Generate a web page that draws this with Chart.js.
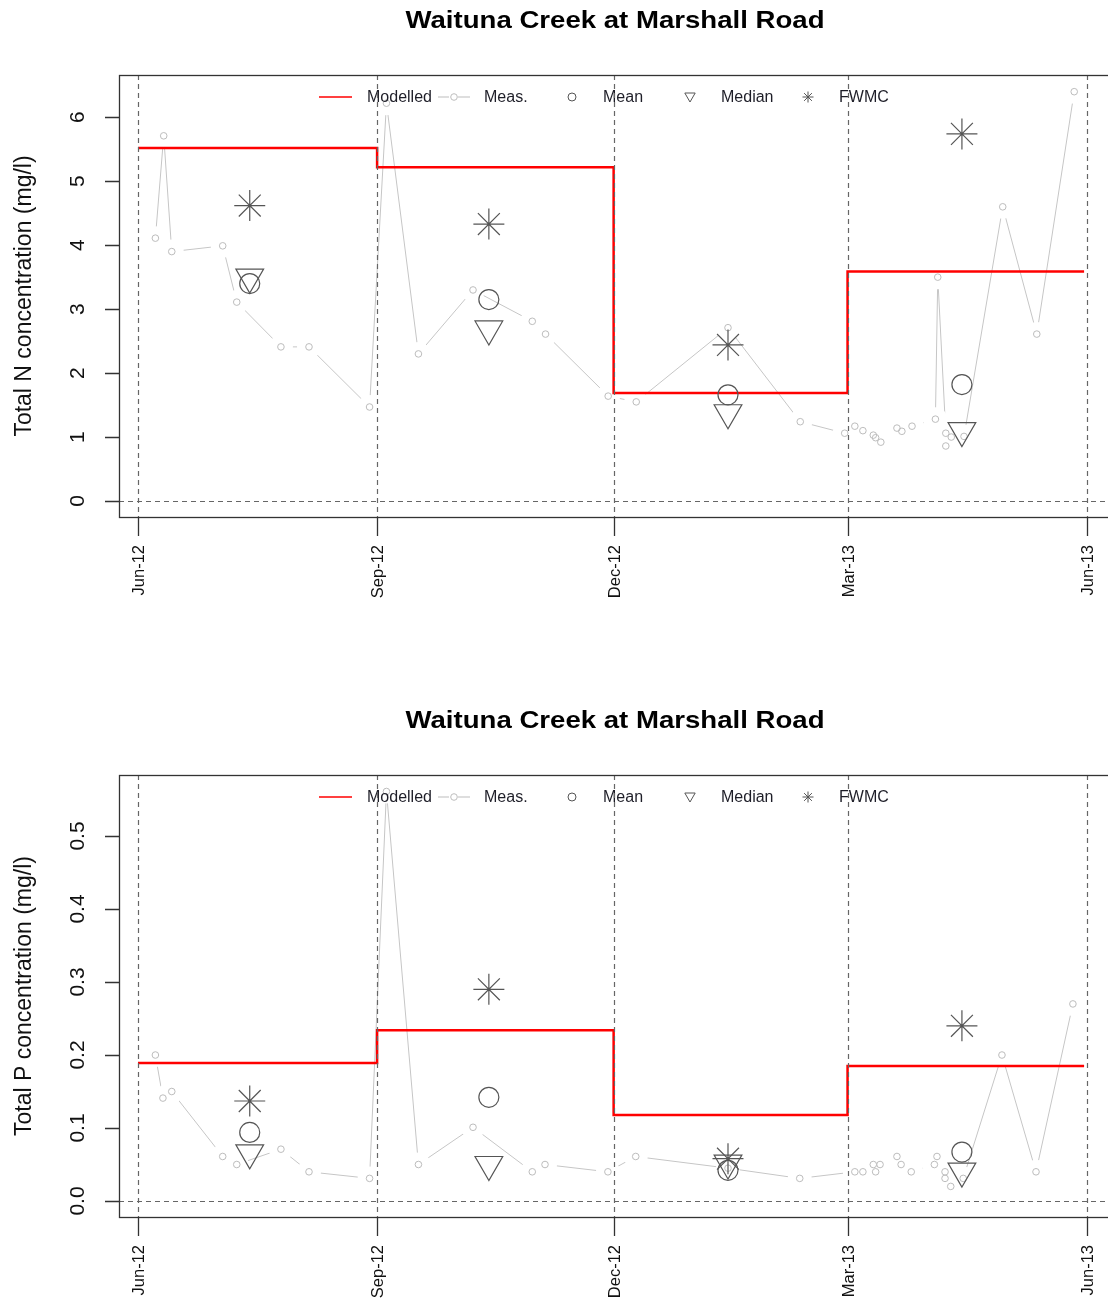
<!DOCTYPE html>
<html>
<head>
<meta charset="utf-8">
<script src="https://cdn.jsdelivr.net/npm/chart.js@4.4.0/dist/chart.umd.min.js"></script>
<style>
    html, body { margin: 0; padding: 0; background: #fff; overflow: hidden; }
    .panel { position: absolute; left: 0; width: 1108px; }
</style>
</head>
<body>
<div class="panel" style="top:0"><canvas id="chartN" width="1108" height="650"></canvas></div>
<div class="panel" style="top:700px"><canvas id="chartP" width="1108" height="599"></canvas></div>
<script>
// Shared time axis (days since 1 Jun 2012)
const quarterDays = [0, 92, 183, 273, 365];
const quarterLabels = ['Jun-12', 'Sep-12', 'Dec-12', 'Mar-13', 'Jun-13'];
const stepDays = [0, 92, 183, 273, 364];
const statDays = [43, 135, 227, 317];

// Total N
const nDays = [6.7, 9.9, 13.0, 32.6, 38.0, 55.0, 65.8, 89.1, 95.6, 107.9, 128.9, 151.7, 156.8, 180.9, 191.7,
    227.0, 254.8, 271.9, 275.8, 278.9, 282.9, 283.8, 285.8, 292.0, 293.9, 297.8, 306.8, 307.7, 310.8, 310.8,
    312.9, 317.8, 332.7, 345.8, 360.2];
const nValues = [4.11, 5.71, 3.90, 3.99, 3.11, 2.41, 2.41, 1.47, 6.22, 2.30, 3.30, 2.81, 2.61, 1.64, 1.55,
    2.71, 1.24, 1.06, 1.17, 1.10, 1.03, 0.99, 0.92, 1.14, 1.09, 1.17, 1.28, 3.50, 1.06, 0.86,
    1.00, 1.01, 4.60, 2.61, 6.40];
const nModelled = [5.52, 5.22, 1.69, 3.59];
const nMean = [3.40, 3.15, 1.66, 1.82];
const nMedian = [3.50, 2.69, 1.38, 1.10];
const nFwmc = [4.62, 4.33, 2.44, 5.74];
const nTicks = [0, 1, 2, 3, 4, 5, 6];

// Total P
const pDays = [6.7, 9.6, 13.0, 32.6, 38.0, 55.0, 65.8, 89.1, 95.6, 107.9, 128.9, 151.7, 156.6, 180.8, 191.5,
    227.0, 254.6, 275.8, 278.9, 282.9, 283.8, 285.5, 292.0, 293.6, 297.5, 306.4, 307.4, 310.5, 310.5,
    312.7, 317.5, 332.4, 345.5, 359.7];
const pValues = [0.200, 0.141, 0.150, 0.061, 0.050, 0.071, 0.040, 0.031, 0.561, 0.050, 0.101, 0.040, 0.050, 0.040, 0.061,
    0.045, 0.031, 0.040, 0.040, 0.050, 0.040, 0.050, 0.061, 0.050, 0.040, 0.050, 0.061, 0.040, 0.031,
    0.020, 0.031, 0.200, 0.040, 0.270];
const pModelled = [0.189, 0.234, 0.118, 0.185];
const pMean = [0.094, 0.142, 0.042, 0.067];
const pMedian = [0.066, 0.050, 0.052, 0.041];
const pFwmc = [0.137, 0.290, 0.058, 0.240];
const pTicks = [0, 0.1, 0.2, 0.3, 0.4, 0.5];

const FONT = "'Liberation Sans', Arial, sans-serif";
const MARK = '#555';
const MEAS = '#bdbdbd';

Chart.defaults.font.family = FONT;

// small helpers for legend glyphs
function glyphCircle(ctx, x, y, r) {
    ctx.beginPath(); ctx.arc(x, y, r, 0, Math.PI * 2); ctx.stroke();
}
function glyphTriangle(ctx, x, y, r) {
    const h = r * Math.sqrt(3) / 2;
    ctx.beginPath();
    ctx.moveTo(x - h, y - r / 2); ctx.lineTo(x + h, y - r / 2); ctx.lineTo(x, y + r);
    ctx.closePath(); ctx.stroke();
}
function glyphStar(ctx, x, y, r) {
    ctx.beginPath();
    for (let i = 0; i < 4; i++) {
        const t = i * Math.PI / 4;
        ctx.moveTo(x - Math.cos(t) * r, y - Math.sin(t) * r);
        ctx.lineTo(x + Math.cos(t) * r, y + Math.sin(t) * r);
    }
    ctx.stroke();
}

// R base-graphics look: box, dashed guides, outward ticks, rotated labels, legend, title
const rStyle = {
    id: 'rStyle',
    afterDatasetsDraw(chart, args, opts) {
        const { ctx, chartArea: a, scales: { x, y } } = chart;
        ctx.save();

        // legend
        const ly = 97;
        ctx.font = '16px ' + FONT;
        ctx.fillStyle = '#1e1e28';
        ctx.textBaseline = 'middle';
        ctx.textAlign = 'left';
        ctx.lineWidth = 1.5;
        ctx.strokeStyle = '#ff0000';
        ctx.beginPath(); ctx.moveTo(319, ly); ctx.lineTo(352, ly); ctx.stroke();
        ctx.fillText('Modelled', 367, ly + 1);
        ctx.lineWidth = 1;
        ctx.strokeStyle = MEAS;
        ctx.beginPath(); ctx.moveTo(438, ly); ctx.lineTo(449, ly); ctx.moveTo(458, ly); ctx.lineTo(470, ly); ctx.stroke();
        glyphCircle(ctx, 454, ly, 3.3);
        ctx.fillText('Meas.', 484, ly + 1);
        ctx.strokeStyle = MARK;
        glyphCircle(ctx, 572, ly, 4);
        ctx.fillText('Mean', 603, ly + 1);
        glyphTriangle(ctx, 690, ly - 1, 6);
        ctx.fillText('Median', 721, ly + 1);
        glyphStar(ctx, 808, ly, 5.5);
        ctx.fillText('FWMC', 839, ly + 1);

        // dashed guides
        ctx.strokeStyle = '#666';
        ctx.lineWidth = 1.2;
        ctx.setLineDash([5, 4]);
        ctx.beginPath();
        quarterDays.forEach(d => {
            const px = Math.round(x.getPixelForValue(d)) + 0.5;
            ctx.moveTo(px, a.top); ctx.lineTo(px, a.bottom);
        });
        const y0 = Math.round(y.getPixelForValue(0)) + 0.5;
        ctx.moveTo(a.left, y0); ctx.lineTo(a.right, y0);
        ctx.stroke();
        ctx.setLineDash([]);

        // box (its right side falls just outside the picture)
        ctx.strokeStyle = '#333';
        ctx.lineWidth = 1.3;
        ctx.strokeRect(a.left + 0.5, a.top + 0.5, a.right - a.left + 2, a.bottom - a.top);

        // x axis
        ctx.fillStyle = '#111';
        ctx.font = '16.5px ' + FONT;
        ctx.beginPath();
        quarterDays.forEach(d => {
            const px = Math.round(x.getPixelForValue(d)) + 0.5;
            ctx.moveTo(px, a.bottom); ctx.lineTo(px, a.bottom + 19);
        });
        ctx.stroke();
        quarterDays.forEach((d, i) => {
            const px = x.getPixelForValue(d) + 1.5;
            ctx.save();
            ctx.translate(px, a.bottom + 28);
            ctx.rotate(-Math.PI / 2);
            ctx.textAlign = 'right';
            ctx.fillText(quarterLabels[i], 0, 0);
            ctx.restore();
        });

        // y axis
        ctx.font = '21px ' + FONT;
        ctx.beginPath();
        opts.yTicks.forEach(v => {
            const py = Math.round(y.getPixelForValue(v)) + 0.5;
            ctx.moveTo(a.left - 14, py); ctx.lineTo(a.left, py);
        });
        ctx.stroke();
        opts.yTicks.forEach(v => {
            ctx.save();
            ctx.translate(78, y.getPixelForValue(v));
            ctx.rotate(-Math.PI / 2);
            ctx.textAlign = 'center';
            ctx.fillText(v.toFixed(opts.yDigits), 0, 0);
            ctx.restore();
        });

        // y title
        ctx.save();
        ctx.font = '23px ' + FONT;
        ctx.translate(25, (a.top + a.bottom) / 2);
        ctx.rotate(-Math.PI / 2);
        ctx.textAlign = 'center';
        ctx.fillText(opts.yTitle, 0, 0);
        ctx.restore();

        // main title
        ctx.save();
        ctx.font = 'bold 24px ' + FONT;
        ctx.fillStyle = '#000';
        ctx.textBaseline = 'alphabetic';
        ctx.textAlign = 'center';
        const w = ctx.measureText(opts.title).width;
        ctx.translate(615, 28);
        ctx.scale(419 / w, 1);
        ctx.fillText(opts.title, 0, 0);
        ctx.restore();

        ctx.restore();
    }
};

function xy(xs, ys) {
    return xs.map((d, i) => ({ x: d, y: ys[i] }));
}

function createPanel(id, days, values, modelled, mean, median, fwmc, yMin, yMax, yTicks, yDigits, yTitle) {
    const ctx = document.getElementById(id).getContext('2d');
    const stepData = stepDays.map((d, i) => ({ x: d, y: modelled[Math.min(i, modelled.length - 1)] }));
    const meas = xy(days, values);

    return new Chart(ctx, {
        type: 'scatter',
        data: {
            datasets: [
                { label: 'Meas. line', data: meas, showLine: true, borderColor: '#c6c6c6', borderWidth: 1,
                  pointRadius: 0, order: 6 },
                // white discs leave the gaps R puts around points with type = "b"
                { label: 'gap', data: meas, pointRadius: 12, pointBackgroundColor: '#fff',
                  pointBorderWidth: 0, order: 5 },
                { label: 'Modelled', data: stepData, showLine: true, stepped: true, borderColor: '#ff0000',
                  borderWidth: 2.5, pointRadius: 0, order: 4 },
                { label: 'Meas.', data: meas, pointRadius: 3.3, pointBorderColor: MEAS, pointBorderWidth: 1,
                  pointBackgroundColor: 'rgba(0,0,0,0)', order: 3 },
                { label: 'Mean', data: xy(statDays, mean), pointStyle: 'circle', pointRadius: 10,
                  pointBorderColor: MARK, pointBorderWidth: 1.2, pointBackgroundColor: 'rgba(0,0,0,0)', order: 2 },
                { label: 'Median', data: xy(statDays, median), pointStyle: 'triangle', pointRotation: 180,
                  pointRadius: 16, pointBorderColor: MARK, pointBorderWidth: 1.2,
                  pointBackgroundColor: 'rgba(0,0,0,0)', order: 2 },
                { label: 'FWMC', data: xy(statDays, fwmc), pointStyle: 'star', pointRadius: 15.5,
                  pointBorderColor: MARK, pointBorderWidth: 1.2, order: 1 }
            ]
        },
        options: {
            responsive: false,
            animation: false,
            events: [],
            layout: {
                autoPadding: false,
                padding: { left: 119, right: 0, top: 75, bottom: ctx.canvas.height - 517 }
            },
            scales: {
                x: { type: 'linear', display: false, min: -7.3, max: 373.2 },
                y: { type: 'linear', display: false, min: yMin, max: yMax }
            },
            plugins: {
                legend: { display: false },
                tooltip: { enabled: false },
                rStyle: { title: 'Waituna Creek at Marshall Road', yTitle, yTicks, yDigits }
            }
        },
        plugins: [rStyle]
    });
}

createPanel('chartN', nDays, nValues, nModelled, nMean, nMedian, nFwmc,
    -0.25, 6.661, nTicks, 0, 'Total N concentration (mg/l)');
createPanel('chartP', pDays, pValues, pModelled, pMean, pMedian, pFwmc,
    -0.0219, 0.5836, pTicks, 1, 'Total P concentration (mg/l)');
</script>
</body>
</html>
